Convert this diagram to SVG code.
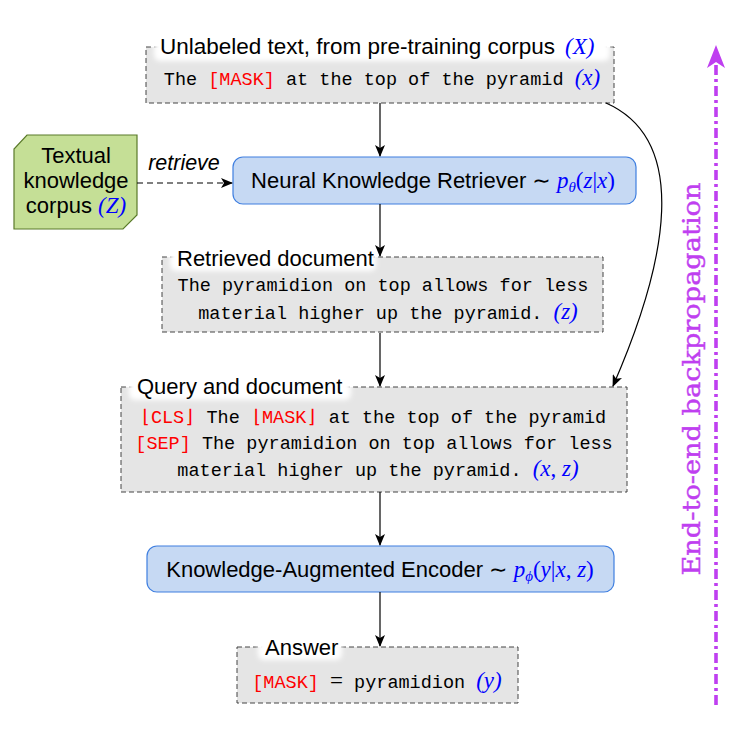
<svg xmlns="http://www.w3.org/2000/svg" width="754" height="732" viewBox="0 0 754 732">
<style>
.dbox{fill:#e5e5e5;stroke:#444;stroke-width:1;stroke-dasharray:5 3}
.rbox{fill:#c6d9f3;stroke:#3f7fe0;stroke-width:1.2}
.lbl{font-family:"Liberation Sans","DejaVu Sans",sans-serif;font-size:22px;fill:#000}
.mono{font-family:"Liberation Mono","DejaVu Sans Mono",monospace;font-size:18.5px;fill:#000}
.red{fill:#ff0000}
.math{font-family:"Liberation Serif","DejaVu Serif",serif;font-style:italic;fill:#0000ff;font-size:23px}
.conn{fill:none;stroke:#000;stroke-width:1.2}
.glow{fill:#fff;filter:url(#blur)}
</style>
<defs>
<filter id="blur" x="-20%" y="-50%" width="140%" height="200%"><feGaussianBlur stdDeviation="2.5"/></filter>
<marker id="ah" viewBox="0 0 12 10" refX="11" refY="5" markerWidth="12" markerHeight="10" markerUnits="userSpaceOnUse" orient="auto">
<path d="M0,0 L12,5 L0,10 L3,5 Z" fill="#000"/>
</marker>
</defs>

<g id="n-unlabeled">
<rect class="dbox" x="146" y="47" width="468" height="56"/>
<rect class="glow" x="154" y="35" width="456" height="26" rx="6"/>
<text class="lbl" x="160" y="54" textLength="395" lengthAdjust="spacingAndGlyphs">Unlabeled text, from pre-training corpus</text>
<text class="math" x="565" y="54">(X)</text>
<text class="mono" x="382" y="85" text-anchor="middle">The <tspan class="red">[MASK]</tspan> at the top of the pyramid <tspan class="math">(x)</tspan></text>
</g>

<g id="n-corpus">
<polygon points="27,135 137,135 137,215 123,229 14,229 14,149" fill="#c5df96" stroke="#5a7a2a" stroke-width="1.2"/>
<text class="lbl" x="76" y="163" text-anchor="middle">Textual</text>
<text class="lbl" x="76" y="188" text-anchor="middle">knowledge</text>
<text class="lbl" x="76" y="213" text-anchor="middle">corpus <tspan class="math">(Z)</tspan></text>
</g>

<g id="n-retriever">
<rect class="rbox" x="233" y="157" width="403" height="47" rx="10"/>
<text class="lbl" x="433" y="188" text-anchor="middle">Neural Knowledge Retriever ∼ <tspan class="math">p<tspan font-size="15" dy="4">θ</tspan><tspan dy="-4" font-style="normal">(</tspan>z<tspan font-style="normal">|</tspan>x<tspan font-style="normal">)</tspan></tspan></text>
</g>

<g id="n-retrieved">
<rect class="dbox" x="162" y="257" width="441" height="75"/>
<rect class="glow" x="170" y="246" width="206" height="25" rx="6"/>
<text class="lbl" x="177" y="266">Retrieved document</text>
<text class="mono" x="383" y="291" text-anchor="middle">The pyramidion on top allows for less</text>
<text class="mono" x="388" y="319" text-anchor="middle">material higher up the pyramid. <tspan class="math">(z)</tspan></text>
</g>

<g id="n-query">
<rect class="dbox" x="121" y="387" width="506" height="105"/>
<rect class="glow" x="129" y="375" width="222" height="25" rx="6"/>
<text class="lbl" x="137" y="394">Query and document</text>
<text class="mono" x="373" y="423" text-anchor="middle"><tspan class="red">⌊CLS⌋</tspan> The <tspan class="red">⌊MASK⌋</tspan> at the top of the pyramid</text>
<text class="mono" x="374" y="449" text-anchor="middle"><tspan class="red">[SEP]</tspan> The pyramidion on top allows for less</text>
<text class="mono" x="378" y="476" text-anchor="middle">material higher up the pyramid. <tspan class="math">(x<tspan font-style="normal">,</tspan> z)</tspan></text>
</g>

<g id="n-encoder">
<rect class="rbox" x="147" y="546" width="467" height="46" rx="10"/>
<text class="lbl" x="380" y="577" text-anchor="middle">Knowledge-Augmented Encoder ∼ <tspan class="math">p<tspan font-size="15" dy="4">ϕ</tspan><tspan dy="-4" font-style="normal">(</tspan>y<tspan font-style="normal">|</tspan>x<tspan font-style="normal">,</tspan> z<tspan font-style="normal">)</tspan></tspan></text>
</g>

<g id="n-answer">
<rect class="dbox" x="237" y="647" width="281" height="56"/>
<rect class="glow" x="258" y="635" width="84" height="25" rx="6"/>
<text class="lbl" x="265" y="655">Answer</text>
<text class="mono" x="377" y="688" text-anchor="middle"><tspan class="red">[MASK]</tspan> <tspan font-family="Liberation Serif,serif" font-size="23">=</tspan> pyramidion <tspan class="math">(y)</tspan></text>
</g>

<g id="connectors">
<line class="conn" x1="380" y1="103" x2="380" y2="156" marker-end="url(#ah)"/>
<line class="conn" x1="380" y1="204" x2="380" y2="256" marker-end="url(#ah)"/>
<line class="conn" x1="380" y1="333" x2="380" y2="386" marker-end="url(#ah)"/>
<line class="conn" x1="380" y1="492" x2="380" y2="545" marker-end="url(#ah)"/>
<line class="conn" x1="380" y1="592" x2="380" y2="646" marker-end="url(#ah)"/>
<line class="conn" x1="137" y1="183" x2="232" y2="183" stroke-dasharray="6 4" marker-end="url(#ah)"/>
<text x="184" y="170" text-anchor="middle" font-family="Liberation Sans,DejaVu Sans,sans-serif" font-style="italic" font-size="21.5">retrieve</text>
<path class="conn" d="M606,103 C690,140 668,260 613,386" marker-end="url(#ah)"/>
</g>

<g id="backprop">
<line x1="716" y1="705" x2="716" y2="60" stroke="#bf3ff0" stroke-width="3.6" stroke-dasharray="10 4 3 4"/>
<path d="M716,45 L725,68 L716,62 L707,68 Z" fill="#bf3ff0"/>
<text transform="translate(700,379) rotate(-90)" text-anchor="middle" font-family="DejaVu Serif,Liberation Serif,serif" font-size="25" fill="#bf3ff0" stroke="#bf3ff0" stroke-width="0.4" textLength="393" lengthAdjust="spacingAndGlyphs">End-to-end backpropagation</text>
</g>
</svg>
